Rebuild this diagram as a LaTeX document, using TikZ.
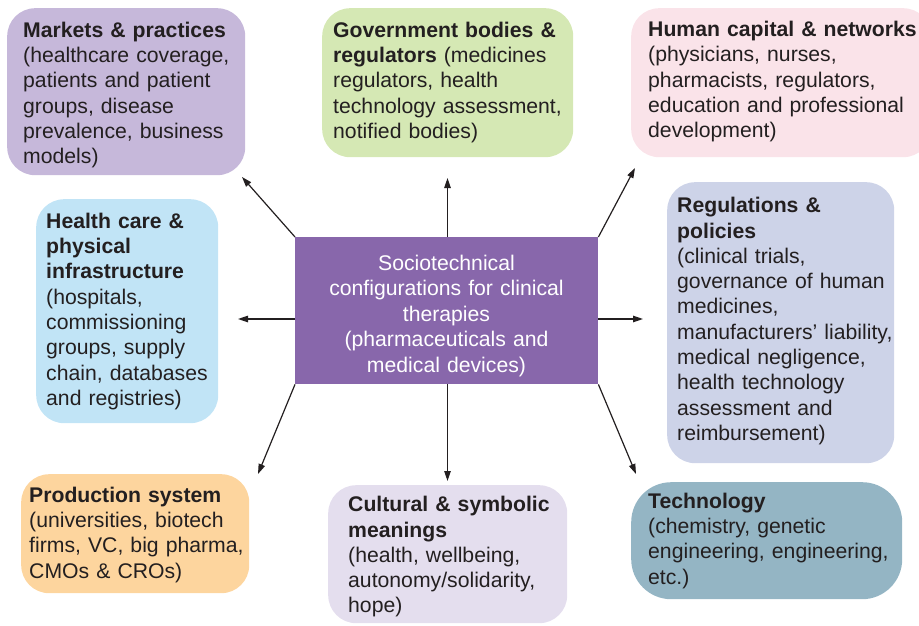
\documentclass[tikz,border=0pt]{standalone}
\usepackage{fontspec}
\setmainfont{Liberation Sans}
\usetikzlibrary{arrows.meta}
\definecolor{ink}{HTML}{231F20}
\definecolor{cMarkets}{HTML}{C6B8DA}
\definecolor{cGov}{HTML}{D5E8B4}
\definecolor{cHuman}{HTML}{FAE3E9}
\definecolor{cHealth}{HTML}{C1E4F6}
\definecolor{cCentral}{HTML}{8867AB}
\definecolor{cReg}{HTML}{CDD3E8}
\definecolor{cProd}{HTML}{FDD59E}
\definecolor{cCult}{HTML}{E4DEEE}
\definecolor{cTech}{HTML}{94B5C4}
\tikzset{
  boxshape/.style={draw=none, rounded corners=28pt, inner sep=0pt, anchor=north west},
  txt/.style={anchor=base west, inner sep=0pt, text width=330pt, align=left, text=ink,
              font=\fontsize{21.2}{25.3}\selectfont},
  ctxt/.style={anchor=base, inner sep=0pt, text width=300pt, align=center, text=white,
              font=\fontsize{21.2}{25.5}\selectfont},
  arr/.style={draw=ink, line width=1.2pt, -{Triangle[length=10pt,width=6.5pt]}}
}
\begin{document}
\begin{tikzpicture}[x=1pt,y=-1pt]
\useasboundingbox (0,0) rectangle (919,626);
% boxes
\node[boxshape, fill=cMarkets, minimum width=238pt, minimum height=167pt] (b1) at (7,8) {};
\node[boxshape, fill=cGov, minimum width=251pt, minimum height=149pt] (b2) at (322,8) {};
\node[boxshape, fill=cHuman, minimum width=300pt, minimum height=149pt] (b3) at (631,8) {};
\node[boxshape, fill=cHealth, minimum width=182pt, minimum height=224pt] (b4) at (36,199) {};
\node[draw=none, fill=cCentral, inner sep=0pt, anchor=north west, minimum width=303pt, minimum height=147pt] (c) at (295,237) {};
\node[boxshape, fill=cReg, minimum width=227pt, minimum height=281pt] (b6) at (667,182) {};
\node[boxshape, fill=cProd, minimum width=228pt, minimum height=119pt] (b7) at (21,474) {};
\node[boxshape, fill=cCult, minimum width=239pt, minimum height=138pt] (b8) at (328,485) {};
\node[boxshape, rounded corners=40pt, fill=cTech, minimum width=271pt, minimum height=117pt] (b9) at (631,482) {};
% texts
\node[txt] (t1) at (23,37.3) {\textbf{Markets \& practices}\\(healthcare coverage,\\patients and patient\\groups, disease\\prevalence, business\\models)};
\node[txt] (t2) at (333,37.3) {\textbf{Government bodies \&}\\\textbf{regulators} (medicines\\regulators, health\\technology assessment,\\notified bodies)};
\node[txt] (t3) at (648,36.7) {\textbf{Human capital \& networks}\\(physicians, nurses,\\pharmacists, regulators,\\education and professional\\development)};
\node[txt] (t4) at (46,228.3) {\textbf{Health care \&}\\\textbf{physical}\\\textbf{infrastructure}\\(hospitals,\\commissioning\\groups, supply\\chain, databases\\and registries)};
\node[ctxt] (tc) at (446.5,270) {Sociotechnical\\configurations for clinical\\therapies\\(pharmaceuticals and\\medical devices)};
\node[txt] (t6) at (677,212.7) {\textbf{Regulations \&}\\\textbf{policies}\\(clinical trials,\\governance of human\\medicines,\\manufacturers’ liability,\\medical negligence,\\health technology\\assessment and\\reimbursement)};
\node[txt] (t7) at (29,502.3) {\textbf{Production system}\\(universities, biotech\\firms, VC, big pharma,\\CMOs \& CROs)};
\node[txt] (t8) at (348,511.7) {\textbf{Cultural \& symbolic}\\\textbf{meanings}\\(health, wellbeing,\\autonomy/solidarity,\\hope)};
\node[txt] (t9) at (648,508.3) {\textbf{Technology}\\(chemistry, genetic\\engineering, engineering,\\etc.)};
% arrow ends
\coordinate (e1) at (242,177);
\coordinate (e2) at (447.5,178);
\coordinate (e3) at (635,168);
\coordinate (e4) at (238,319);
\coordinate (e6) at (643,319);
\coordinate (e7) at (258,474);
\coordinate (e8) at (447.5,481);
\coordinate (e9) at (636,474);
% arrows
\draw[arr] (c.north west) -- (e1);
\draw[arr] (c.north -| e2) -- (e2);
\draw[arr] (c.north east) -- (e3);
\draw[arr] (c.west |- e4) -- (e4);
\draw[arr] (c.east |- e6) -- (e6);
\draw[arr] (c.south west) -- (e7);
\draw[arr] (c.south -| e8) -- (e8);
\draw[arr] (c.south east) -- (e9);
\end{tikzpicture}
\end{document}
